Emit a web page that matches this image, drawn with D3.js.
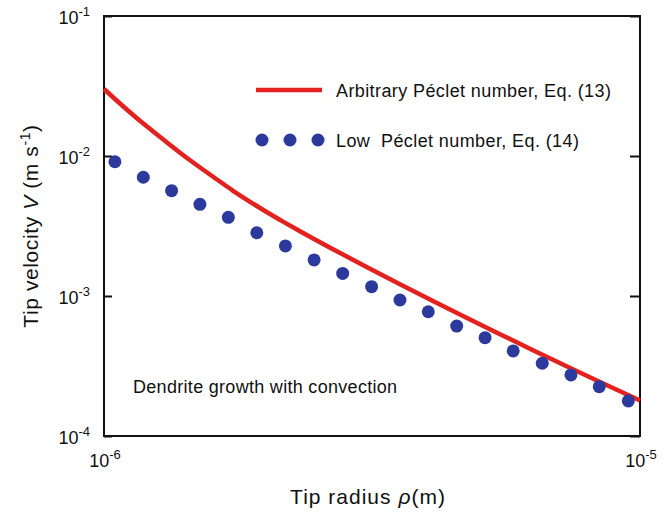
<!DOCTYPE html>
<html>
<head>
<meta charset="utf-8">
<script src="https://cdn.jsdelivr.net/npm/d3@7"></script>
<style>
  body { margin: 0; background: #fff; }
  text { font-family: "Liberation Sans", Arial, sans-serif; fill: #111; }
</style>
</head>
<body>
<div id="chart"></div>
<script>
// tip radius (m) and velocity (m/s)
// arbitrary Peclet number, Eq. (13)
var lineRadius = [1.000e-6, 1.071e-6, 1.133e-6, 1.219e-6, 1.311e-6, 1.404e-6, 1.511e-6, 1.625e-6,
   1.741e-6, 1.873e-6, 2.014e-6, 2.158e-6, 2.321e-6, 2.674e-6, 3.096e-6, 3.566e-6, 4.109e-6,
   4.756e-6, 5.480e-6, 6.315e-6, 7.310e-6, 8.422e-6, 1.000e-5];
var lineVelocity = [3.010e-2, 2.371e-2, 1.963e-2, 1.559e-2, 1.249e-2, 1.017e-2, 8.276e-3, 6.795e-3,
   5.642e-3, 4.709e-3, 3.968e-3, 3.400e-3, 2.903e-3, 2.159e-3, 1.606e-3, 1.214e-3, 9.211e-4,
   6.964e-4, 5.336e-4, 4.101e-4, 3.136e-4, 2.431e-4, 1.793e-4];

// low Peclet number, Eq. (14)
var dotRadius = [1.048e-6, 1.184e-6, 1.337e-6, 1.510e-6, 1.706e-6, 1.928e-6, 2.180e-6, 2.466e-6,
   2.788e-6, 3.157e-6, 3.566e-6, 4.027e-6, 4.550e-6, 5.140e-6, 5.800e-6, 6.571e-6, 7.433e-6, 8.395e-6, 9.510e-6];
var dotVelocity = [9.1e-3, 7.05e-3, 5.65e-3, 4.52e-3, 3.65e-3, 2.83e-3, 2.28e-3, 1.81e-3,
   1.45e-3, 1.165e-3, 9.36e-4, 7.72e-4, 6.1e-4, 5.04e-4, 4.05e-4, 3.31e-4, 2.73e-4, 2.25e-4, 1.78e-4];

var yTicks = [1e-4, 1e-3, 1e-2, 1e-1];
var xTicks = [1e-6, 1e-5];

var svgWidth = 672;
var svgHeight = 520;
var red = "#e3211f";
var blue = "#2b3a9c";

var svg = d3.select("#chart")
   .append("svg")
   .attr("width", svgWidth)
   .attr("height", svgHeight);

var x = d3.scaleLog().domain([1e-6, 1e-5]).range([104, 640]);
var y = d3.scaleLog().domain([1e-4, 1e-1]).range([436, 16]);

// inner tick marks on both sides
svg.append("g")
   .attr("transform", "translate(104,0)")
   .call(d3.axisRight(y).tickValues(yTicks).tickSize(8).tickFormat(""))
   .call(g => g.select(".domain").remove())
   .selectAll("line").attr("stroke", "#111").attr("stroke-width", 2);
svg.append("g")
   .attr("transform", "translate(640,0)")
   .call(d3.axisLeft(y).tickValues(yTicks).tickSize(10).tickFormat(""))
   .call(g => g.select(".domain").remove())
   .selectAll("line").attr("stroke", "#111").attr("stroke-width", 2);

// frame
svg.append("rect")
   .attr("x", 104).attr("y", 16)
   .attr("width", 536).attr("height", 420)
   .attr("fill", "none")
   .attr("stroke", "#111")
   .attr("stroke-width", 2);

// power-of-ten labels
function powLabel(sel, d) {
   var e = Math.round(Math.log10(d));
   sel.append("tspan").text("10");
   sel.append("tspan").attr("dy", -8).attr("font-size", 13).text(e);
}
svg.append("g").selectAll("text")
   .data(yTicks)
   .enter()
   .append("text")
   .attr("x", 90)
   .attr("y", d => y(d) + 8)
   .attr("text-anchor", "end")
   .attr("font-size", 18)
   .each(function (d) { powLabel(d3.select(this), d); });
svg.append("g").selectAll("text")
   .data(xTicks)
   .enter()
   .append("text")
   .attr("x", d => x(d) + 1)
   .attr("y", 467)
   .attr("text-anchor", "middle")
   .attr("font-size", 18)
   .each(function (d) { powLabel(d3.select(this), d); });

// curves
var line = d3.line()
   .x(d => x(d[0]))
   .y(d => y(d[1]))
   .curve(d3.curveMonotoneX);
svg.append("path")
   .datum(d3.zip(lineRadius, lineVelocity))
   .attr("d", line)
   .attr("fill", "none")
   .attr("stroke", red)
   .attr("stroke-width", 4.5);

svg.append("g").selectAll("circle")
   .data(d3.zip(dotRadius, dotVelocity))
   .enter()
   .append("circle")
   .attr("cx", d => x(d[0]))
   .attr("cy", d => y(d[1]))
   .attr("r", 6.5)
   .attr("fill", blue);

// legend
svg.append("line")
   .attr("x1", 256).attr("x2", 322)
   .attr("y1", 90).attr("y2", 90)
   .attr("stroke", red)
   .attr("stroke-width", 4.5);
svg.append("text")
   .attr("x", 336).attr("y", 97)
   .attr("font-size", 18)
   .attr("letter-spacing", 0.4)
   .text("Arbitrary Péclet number, Eq. (13)");
svg.append("g").selectAll("circle")
   .data([262, 290, 318])
   .enter()
   .append("circle")
   .attr("cx", d => d)
   .attr("cy", 140)
   .attr("r", 6.5)
   .attr("fill", blue);
svg.append("text")
   .attr("x", 336).attr("y", 147)
   .attr("font-size", 18)
   .attr("letter-spacing", 0.4)
   .attr("xml:space", "preserve")
   .text("Low  Péclet number, Eq. (14)");

svg.append("text")
   .attr("x", 133).attr("y", 393)
   .attr("font-size", 18)
   .attr("letter-spacing", 0.3)
   .text("Dendrite growth with convection");

// axis titles
var xTitle = svg.append("text")
   .attr("x", 368).attr("y", 504)
   .attr("text-anchor", "middle")
   .attr("font-size", 21)
   .attr("letter-spacing", 1);
xTitle.append("tspan").text("Tip radius ");
xTitle.append("tspan").attr("font-style", "italic").text("ρ");
xTitle.append("tspan").text("(m)");

var yTitle = svg.append("text")
   .attr("transform", "translate(38,226) rotate(-90)")
   .attr("text-anchor", "middle")
   .attr("font-size", 21)
   .attr("letter-spacing", 0.6)
   .attr("xml:space", "preserve");
yTitle.append("tspan").text("Tip velocity ");
yTitle.append("tspan").attr("font-style", "italic").text("V");
yTitle.append("tspan").text(" (m s");
yTitle.append("tspan").attr("dy", -8).attr("font-size", 14).text("-1");
yTitle.append("tspan").attr("dy", 8).text(")");
</script>
</body>
</html>
